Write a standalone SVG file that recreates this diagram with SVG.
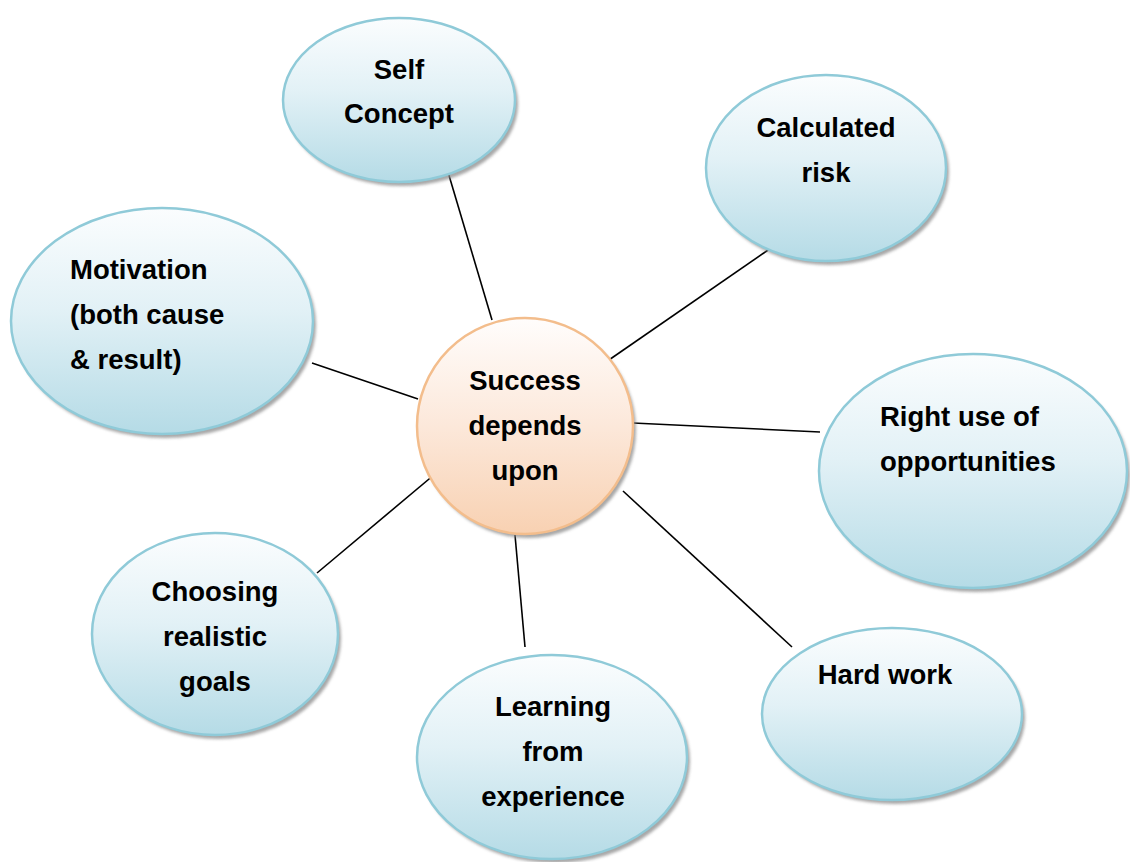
<svg xmlns="http://www.w3.org/2000/svg" width="1130" height="862" viewBox="0 0 1130 862">
<defs>
<linearGradient id="gb" x1="0" y1="0" x2="0" y2="1">
<stop offset="0" stop-color="#fbfdfe"/>
<stop offset="0.45" stop-color="#e2f1f6"/>
<stop offset="1" stop-color="#b5dbe6"/>
</linearGradient>
<linearGradient id="go" x1="0" y1="0" x2="0" y2="1">
<stop offset="0" stop-color="#fffdfc"/>
<stop offset="0.5" stop-color="#fce8da"/>
<stop offset="1" stop-color="#f8d1b2"/>
</linearGradient>
<filter id="sh" x="-10%" y="-10%" width="130%" height="130%">
<feGaussianBlur stdDeviation="1.5"/>
</filter>
</defs>
<style>
.b{fill:url(#gb);stroke:#8fcad8;stroke-width:2.5}
.o{fill:url(#go);stroke:#f3bd8c;stroke-width:2.5}
.s{fill:#8a8a8a;opacity:0.75;filter:url(#sh)}
.t{font-family:"Liberation Sans",Arial,sans-serif;font-weight:bold;font-size:27.5px;fill:#000}
.c{text-anchor:middle}
.ln{stroke:#000;stroke-width:1.6;fill:none}
</style>
<rect width="1130" height="862" fill="#fff"/>
<g id="connectors">
<line class="ln" x1="448" y1="172" x2="492" y2="320"/>
<line class="ln" x1="771" y1="248" x2="606" y2="362"/>
<line class="ln" x1="312" y1="363" x2="418" y2="399"/>
<line class="ln" x1="633" y1="423" x2="820" y2="432"/>
<line class="ln" x1="317" y1="573" x2="435" y2="474"/>
<line class="ln" x1="515" y1="535" x2="525" y2="647"/>
<line class="ln" x1="623" y1="491" x2="792" y2="647"/>
</g>
<g id="self-concept">
<ellipse class="s" cx="402" cy="104" rx="116" ry="82"/>
<ellipse class="b" cx="399" cy="100" rx="116" ry="82"/>
<text class="t c" x="399" y="79">Self</text>
<text class="t c" x="399" y="123">Concept</text>
</g>
<g id="calculated-risk">
<ellipse class="s" cx="829" cy="172" rx="120" ry="93"/>
<ellipse class="b" cx="826" cy="168" rx="120" ry="93"/>
<text class="t c" x="826" y="137">Calculated</text>
<text class="t c" x="826" y="182">risk</text>
</g>
<g id="motivation">
<ellipse class="s" cx="165" cy="325" rx="151" ry="113"/>
<ellipse class="b" cx="162" cy="321" rx="151" ry="113"/>
<text class="t" x="70" y="279">Motivation</text>
<text class="t" x="70" y="324">(both cause</text>
<text class="t" x="70" y="369">&amp; result)</text>
</g>
<g id="success">
<ellipse class="s" cx="528" cy="430" rx="108" ry="108"/>
<ellipse class="o" cx="525" cy="426" rx="108" ry="108"/>
<text class="t c" x="525" y="390">Success</text>
<text class="t c" x="525" y="435">depends</text>
<text class="t c" x="525" y="480">upon</text>
</g>
<g id="right-use">
<ellipse class="s" cx="976" cy="475" rx="154" ry="117"/>
<ellipse class="b" cx="973" cy="471" rx="154" ry="117"/>
<text class="t" x="880" y="426">Right use of</text>
<text class="t" x="880" y="471">opportunities</text>
</g>
<g id="choosing">
<ellipse class="s" cx="218" cy="638" rx="123" ry="101"/>
<ellipse class="b" cx="215" cy="634" rx="123" ry="101"/>
<text class="t c" x="215" y="601">Choosing</text>
<text class="t c" x="215" y="646">realistic</text>
<text class="t c" x="215" y="691">goals</text>
</g>
<g id="learning">
<ellipse class="s" cx="555" cy="761" rx="135" ry="102"/>
<ellipse class="b" cx="552" cy="757" rx="135" ry="102"/>
<text class="t c" x="553" y="716">Learning</text>
<text class="t c" x="553" y="761">from</text>
<text class="t c" x="553" y="806">experience</text>
</g>
<g id="hard-work">
<ellipse class="s" cx="895" cy="718" rx="130" ry="86"/>
<ellipse class="b" cx="892" cy="714" rx="130" ry="86"/>
<text class="t c" x="885" y="684">Hard work</text>
</g>
</svg>
